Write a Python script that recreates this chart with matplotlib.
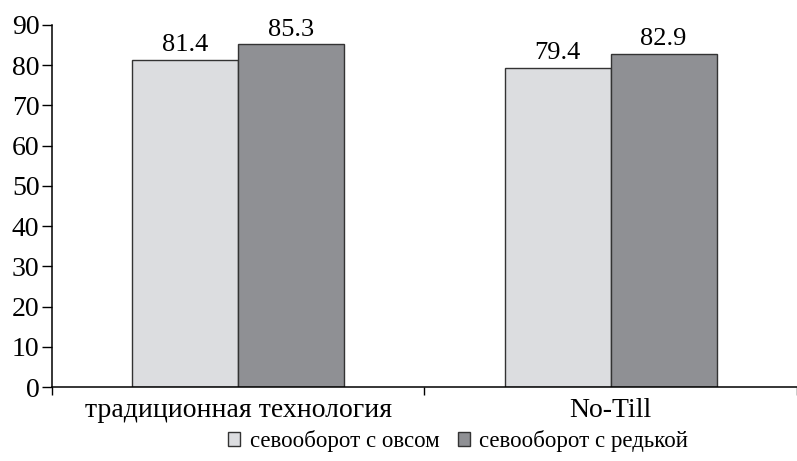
import matplotlib.pyplot as plt
import numpy as np

plt.rcParams['font.family'] = ['Liberation Serif', 'DejaVu Serif']

categories = ['традиционная технология', 'No-Till']
oats = [81.4, 79.4]
radish = [85.3, 82.9]
series_names = ['севооборот с овсом', 'севооборот с редькой']

fig = plt.figure(figsize=(7.97, 4.61), dpi=100)
ax = fig.add_axes([0.0652, 0.1605, 0.9348, 0.7853])

x = np.arange(len(categories))
w = 0.284
b1 = ax.bar(x - w / 2, oats, w, color='#dcdde0', edgecolor='#333333', linewidth=1, label=series_names[0])
b2 = ax.bar(x + w / 2, radish, w, color='#8f9094', edgecolor='#333333', linewidth=1, label=series_names[1])

for bars, vals in [(b1, oats), (b2, radish)]:
    for r, v in zip(bars, vals):
        ax.text(r.get_x() + r.get_width() / 2, v + 0.8, f'{v:.1f}', ha='center', va='bottom', fontsize=19)

ax.set_xlim(-0.5, 1.476)
ax.set_ylim(0, 90)
ax.set_yticks(range(0, 91, 10))
ax.set_xticks(x)
ax.set_xticklabels(categories)
ax.set_xticks([-0.5, 0.5, 1.5], minor=True)
ax.tick_params(axis='x', which='major', length=0, pad=8, labelsize=20)
ax.tick_params(axis='x', which='minor', length=6, width=1)
ax.tick_params(axis='y', length=7, width=1, labelsize=20, pad=2)

for s in ['top', 'right']:
    ax.spines[s].set_visible(False)
for s in ['left', 'bottom']:
    ax.spines[s].set_linewidth(1.1)

fig.legend(loc='center', bbox_to_anchor=(458 / 797, 1 - 441 / 461), ncol=2, frameon=False,
           fontsize=16.5, handlelength=0.55, handleheight=0.55, handletextpad=0.4, columnspacing=0.8)

plt.savefig('out.png', dpi=100)
